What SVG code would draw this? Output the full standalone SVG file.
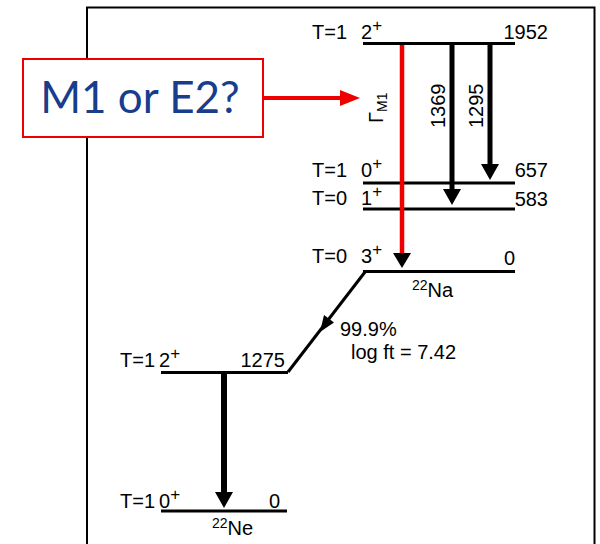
<svg xmlns="http://www.w3.org/2000/svg" width="600" height="544" viewBox="0 0 600 544">
<style>
.t{font-family:"Liberation Sans",Arial,sans-serif;font-size:20px;fill:#000}
.sup{font-size:17px}
.sub{font-size:14px}
.lvl{stroke:#000;stroke-width:3;fill:none}
</style>
<rect x="87" y="7.5" width="507.5" height="560" fill="#fff" stroke="#000" stroke-width="2"/>
<g id="levels">
<g id="na1952"><line class="lvl" x1="363" y1="43.5" x2="515" y2="43.5"/><text class="t" x="312" y="39">T=1</text><text class="t" x="361" y="39">2<tspan class="sup" dy="-8">+</tspan></text><text class="t" x="548" y="39" text-anchor="end">1952</text></g>
<g id="na657"><line class="lvl" x1="363" y1="183" x2="515" y2="183"/><text class="t" x="312" y="177">T=1</text><text class="t" x="361" y="177">0<tspan class="sup" dy="-8">+</tspan></text><text class="t" x="548" y="177" text-anchor="end">657</text></g>
<g id="na583"><line class="lvl" x1="363" y1="209" x2="515" y2="209"/><text class="t" x="312" y="205">T=0</text><text class="t" x="361" y="205">1<tspan class="sup" dy="-8">+</tspan></text><text class="t" x="548" y="206" text-anchor="end">583</text></g>
<g id="na0"><line class="lvl" x1="363" y1="271.5" x2="515" y2="271.5"/><text class="t" x="312" y="263">T=0</text><text class="t" x="361" y="263">3<tspan class="sup" dy="-8">+</tspan></text><text class="t" x="515" y="265" text-anchor="end">0</text><text class="t" x="412" y="297"><tspan class="sub" dy="-7">22</tspan><tspan dy="7">Na</tspan></text></g>
<g id="ne1275"><line class="lvl" x1="161" y1="372.5" x2="288" y2="372.5"/><text class="t" x="120" y="367">T=1</text><text class="t" x="159" y="367">2<tspan class="sup" dy="-8">+</tspan></text><text class="t" x="285" y="367" text-anchor="end">1275</text></g>
<g id="ne0"><line class="lvl" x1="161" y1="511" x2="287" y2="511"/><text class="t" x="120" y="508">T=1</text><text class="t" x="159" y="508">0<tspan class="sup" dy="-8">+</tspan></text><text class="t" x="280" y="508" text-anchor="end">0</text><text class="t" x="212" y="535"><tspan class="sub" dy="-7">22</tspan><tspan dy="7">Ne</tspan></text></g>
</g>
<g id="connectors">
<line x1="402" y1="45" x2="402" y2="254" stroke="#e00" stroke-width="4.5"/>
<path d="M393,253 L411,253 L402,268 z" fill="#000"/>
<line x1="452" y1="45" x2="452" y2="190" stroke="#000" stroke-width="5"/>
<path d="M443,189 L461,189 L452,205 z" fill="#000"/>
<line x1="490" y1="45" x2="490" y2="165" stroke="#000" stroke-width="5"/>
<path d="M481,164 L499,164 L490,180 z" fill="#000"/>
<path d="M365,272 L288,372" stroke="#000" stroke-width="3" fill="none"/>
<path d="M320,332 L324,315 L334,322.5 z" fill="#000"/>
<line x1="224" y1="373" x2="224" y2="494" stroke="#000" stroke-width="6"/>
<path d="M215,492 L233,492 L224,508 z" fill="#000"/>
<line x1="263" y1="98" x2="344" y2="98" stroke="#e00" stroke-width="4"/>
<path d="M340,90 L360,98 L340,106 z" fill="#e00"/>
</g>
<g id="gammalabels">
<text class="t" transform="translate(383,123) rotate(-90)">Γ<tspan class="sub" dy="4">M1</tspan></text>
<text class="t" transform="translate(445,128) rotate(-90)">1369</text>
<text class="t" transform="translate(483,128) rotate(-90)">1295</text>
</g>
<g id="decaylabel">
<text class="t" x="340" y="336">99.9%</text>
<text class="t" x="351" y="359">log ft = 7.42</text>
</g>
<g id="callout">
<rect x="23" y="59" width="240" height="78" fill="#fff" stroke="#e00" stroke-width="2"/>
<text x="140" y="113" text-anchor="middle" style="font-family:Lato,'Open Sans',sans-serif;font-size:44px;fill:#173d8c">M1 or E2?</text>
</g>
</svg>
